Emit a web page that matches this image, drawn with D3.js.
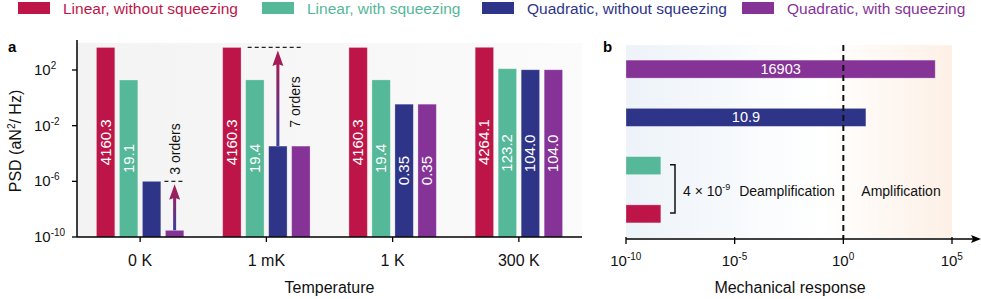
<!DOCTYPE html>
<meta charset="utf-8">
<script src="https://d3js.org/d3.v7.min.js"></script>
<style>
  body { margin: 0; background: #fff; }
  svg text { font-family: Arial, "Liberation Sans", sans-serif; }
</style>
<div id="chart"></div>
<script>
// series and categories
const series = ["Linear, without squeezing", "Linear, with squeezing", "Quadratic, without squeezing", "Quadratic, with squeezing"];
const colors = ["#be1549", "#55b899", "#2e3588", "#863397"];
const temps = ["0 K", "1 mK", "1 K", "300 K"];
// PSD values (aN^2/Hz) per temperature, per series
const psd0K = [4160.3, 19.1, 1e-6, 3e-10];
const psd1mK = [4160.3, 19.4, 3.4e-4, 3.4e-4];
const psd1K = [4160.3, 19.4, 0.35, 0.35];
const psd300K = [4264.1, 123.2, 104.0, 104.0];
const psdLabels = [["4160.3", "19.1", "", ""], ["4160.3", "19.4", "", ""], ["4160.3", "19.4", "0.35", "0.35"], ["4264.1", "123.2", "104.0", "104.0"]];
const yTicksA = [-10, -6, -2, 2];
// panel b: mechanical response, top to bottom
const respOrder = [3, 2, 1, 0];
const respValues = [4e-9, 4e-9, 10.9, 16903];
const respLabels = ["", "", "10.9", "16903"];
const xTicksB = [-10, -5, 0, 5];

const W = 981, H = 299;
const svg = d3.select("#chart").append("svg").attr("width", W).attr("height", H);
const defs = svg.append("defs");

// legend
const legX = [18, 262, 482, 742];
series.forEach((s, i) => {
  svg.append("rect").attr("x", legX[i]).attr("y", 2).attr("width", 32).attr("height", 12).attr("fill", colors[i]);
  svg.append("text").attr("x", legX[i] + 45).attr("y", 14).attr("font-size", 15.5).attr("fill", colors[i]).text(s);
});

// helper for 10^n labels
function pow10(sel, n, size, supSize) {
  sel.text(null);
  sel.append("tspan").attr("font-size", size).text("10");
  sel.append("tspan").attr("font-size", supSize).attr("dy", -6).text(n);
}

// ---------- panel a ----------
const a = { left: 77, right: 582, top: 43, bottom: 237 };
const psdData = [psd0K, psd1mK, psd1K, psd300K];

const gA = defs.append("linearGradient").attr("id", "bgA");
gA.append("stop").attr("offset", "0%").attr("stop-color", "#f3f3f3");
gA.append("stop").attr("offset", "100%").attr("stop-color", "#fbfbfb");
svg.append("rect").attr("x", a.left).attr("y", a.top).attr("width", a.right - a.left).attr("height", a.bottom - a.top).attr("fill", "url(#bgA)");

const x0 = d3.scaleBand().domain(temps).range([a.left, a.right]);
const x1 = d3.scaleBand().domain(d3.range(4)).range([-43.7, 43.7]).paddingInner(0.2);
const y = d3.scaleLog().domain([1e-10, Math.pow(10, 3.94)]).range([a.bottom, a.top]);

temps.forEach((t, gi) => {
  const cx = x0(t) + x0.bandwidth() / 2;
  const g = svg.append("g").attr("transform", `translate(${cx},0)`);
  psdData[gi].forEach((v, si) => {
    g.append("rect")
      .attr("x", x1(si)).attr("width", x1.bandwidth())
      .attr("y", y(v)).attr("height", a.bottom - y(v))
      .attr("fill", colors[si])
      .attr("stroke", "#fff").attr("stroke-opacity", 0.35).attr("stroke-width", 0.8);
    const lab = psdLabels[gi][si];
    if (lab) {
      const mx = x1(si) + x1.bandwidth() / 2, my = (y(v) + a.bottom) / 2;
      g.append("text").attr("transform", `translate(${mx + 5},${my}) rotate(-90)`)
        .attr("text-anchor", "middle").attr("font-size", 15).attr("fill", "#fff").text(lab);
    }
  });
});

// arrow gradient
const gArr = defs.append("linearGradient").attr("id", "arr").attr("x1", 0).attr("y1", 1).attr("x2", 0).attr("y2", 0);
gArr.append("stop").attr("offset", "0%").attr("stop-color", "#3a3fa0");
gArr.append("stop").attr("offset", "100%").attr("stop-color", "#b3174f");

function orderArrow(gi, fromSi, toVal, dashFrom, dashTo) {
  const cx = x0(temps[gi]) + x0.bandwidth() / 2;
  const ax = cx + x1(fromSi) + x1.bandwidth() / 2;
  const y0 = y(psdData[gi][fromSi]);
  const y1 = y(toVal);
  svg.append("line").attr("x1", cx + dashFrom).attr("x2", cx + dashTo).attr("y1", y1).attr("y2", y1)
    .attr("stroke", "#222").attr("stroke-width", 1.2).attr("stroke-dasharray", "4,3");
  const tip = y1 + 3, headB = tip + 14;
  svg.append("path")
    .attr("d", `M${ax - 1.5},${y0} L${ax - 1.5},${headB} L${ax - 5.5},${headB + 1.5} L${ax},${tip} L${ax + 5.5},${headB + 1.5} L${ax + 1.5},${headB} L${ax + 1.5},${y0} Z`)
    .attr("fill", "url(#arr)");
}
orderArrow(0, 3, 1e-6, x1(3) - 1, x1(3) + x1.bandwidth() + 1);
svg.append("text").attr("transform", `translate(${x0("0 K") + x0.bandwidth() / 2 + x1(3) + x1.bandwidth() / 2 + 5},149) rotate(-90)`)
  .attr("text-anchor", "middle").attr("font-size", 14).attr("fill", "#111").text("3 orders");
orderArrow(1, 2, 4160.3, x1(1) + 2, x1(3) + 10);
svg.append("text").attr("transform", `translate(${x0("1 mK") + x0.bandwidth() / 2 + 28.5 + 5},102) rotate(-90)`)
  .attr("text-anchor", "middle").attr("font-size", 14).attr("fill", "#111").text("7 orders");

// axes a
svg.append("line").attr("x1", a.left).attr("x2", a.left).attr("y1", 40).attr("y2", a.bottom)
  .attr("stroke", "#000").attr("stroke-width", 1.5);
svg.append("line").attr("x1", a.left).attr("x2", a.right).attr("y1", a.bottom).attr("y2", a.bottom)
  .attr("stroke", "#000").attr("stroke-width", 1.5);
yTicksA.forEach(n => {
  const yy = y(Math.pow(10, n));
  svg.append("line").attr("x1", a.left - 5).attr("x2", a.left).attr("y1", yy).attr("y2", yy).attr("stroke", "#000").attr("stroke-width", 1.3);
  const t = svg.append("text").attr("x", 34).attr("y", yy + 5).attr("fill", "#111");
  pow10(t, n, 15, 10);
});
temps.forEach(t => {
  const xx = x0(t) + x0.bandwidth() / 2;
  svg.append("line").attr("x1", xx).attr("x2", xx).attr("y1", a.bottom).attr("y2", a.bottom + 5).attr("stroke", "#000").attr("stroke-width", 1.3);
  svg.append("text").attr("x", xx).attr("y", 266).attr("text-anchor", "middle").attr("font-size", 16).attr("fill", "#111").text(t);
});
svg.append("text").attr("x", (a.left + a.right) / 2).attr("y", 293).attr("text-anchor", "middle").attr("font-size", 16).attr("fill", "#111").text("Temperature");
const yl = svg.append("text").attr("transform", "translate(21,141) rotate(-90)").attr("text-anchor", "middle").attr("font-size", 16).attr("fill", "#111");
yl.append("tspan").text("PSD (aN");
yl.append("tspan").attr("font-size", 10).attr("dy", -6).text("2");
yl.append("tspan").attr("dy", 6).text("/ Hz)");
svg.append("text").attr("x", 8).attr("y", 52).attr("font-size", 15).attr("font-weight", "bold").text("a");

// ---------- panel b ----------
const b = { left: 626, right: 952, top: 45, bottom: 238 };
const xb = d3.scaleLog().domain([1e-10, 1e5]).range([b.left, b.right]);
const yb = d3.scaleBand().domain(respOrder).range([b.top, b.bottom]).paddingInner(0.627).paddingOuter(0.3135);

const gB = defs.append("linearGradient").attr("id", "bgB");
gB.append("stop").attr("offset", "0%").attr("stop-color", "#edf3f9");
gB.append("stop").attr("offset", "60%").attr("stop-color", "#ffffff");
gB.append("stop").attr("offset", "100%").attr("stop-color", "#fdf0e6");
svg.append("rect").attr("x", b.left).attr("y", b.top).attr("width", b.right - b.left).attr("height", b.bottom - b.top).attr("fill", "url(#bgB)");

respOrder.forEach(si => {
  const v = respValues[si];
  svg.append("rect").attr("x", b.left).attr("y", yb(si)).attr("width", xb(v) - b.left).attr("height", yb.bandwidth())
    .attr("fill", colors[si]).attr("stroke", "#fff").attr("stroke-opacity", 0.35).attr("stroke-width", 0.8);
  if (respLabels[si]) {
    svg.append("text").attr("x", (b.left + xb(v)) / 2).attr("y", yb(si) + yb.bandwidth() / 2 + 5)
      .attr("text-anchor", "middle").attr("font-size", 14.5).attr("fill", "#fff").text(respLabels[si]);
  }
});

// vertical dashed line at 1
svg.append("line").attr("x1", xb(1)).attr("x2", xb(1)).attr("y1", b.top).attr("y2", b.bottom)
  .attr("stroke", "#111").attr("stroke-width", 2).attr("stroke-dasharray", "6,4");

// bracket
const brTop = yb(1) + yb.bandwidth() / 2 - 1, brBot = yb(0) + yb.bandwidth() / 2 - 1;
svg.append("path").attr("d", `M670,${brTop} L675,${brTop} L675,${brBot} L670,${brBot}`)
  .attr("fill", "none").attr("stroke", "#111").attr("stroke-width", 1.5);
const t4 = svg.append("text").attr("x", 683).attr("y", 196).attr("font-size", 14).attr("fill", "#111");
t4.append("tspan").text("4 × 10");
t4.append("tspan").attr("font-size", 9).attr("dy", -6).text("-9");
svg.append("text").attr("x", 787).attr("y", 196).attr("text-anchor", "middle").attr("font-size", 14).attr("fill", "#111").text("Deamplification");
svg.append("text").attr("x", 901).attr("y", 196).attr("text-anchor", "middle").attr("font-size", 14).attr("fill", "#111").text("Amplification");

// axis b with arrow
svg.append("line").attr("x1", b.left).attr("x2", 974).attr("y1", 239).attr("y2", 239).attr("stroke", "#000").attr("stroke-width", 1.5);
svg.append("path").attr("d", "M981,239 L971,235 L973,239 L971,243 Z").attr("fill", "#000");
xTicksB.forEach(n => {
  const xx = xb(Math.pow(10, n));
  svg.append("line").attr("x1", xx).attr("x2", xx).attr("y1", 237).attr("y2", 244).attr("stroke", "#000").attr("stroke-width", 1.3);
  const t = svg.append("text").attr("x", xx).attr("y", 266).attr("fill", "#111");
  pow10(t, n, 15, 10);
  const bb = t.node().getBBox();
  t.attr("x", xx - bb.width / 2);
});
svg.append("text").attr("x", 790).attr("y", 293).attr("text-anchor", "middle").attr("font-size", 16).attr("fill", "#111").text("Mechanical response");
svg.append("text").attr("x", 603).attr("y", 52).attr("font-size", 15).attr("font-weight", "bold").text("b");
</script>
